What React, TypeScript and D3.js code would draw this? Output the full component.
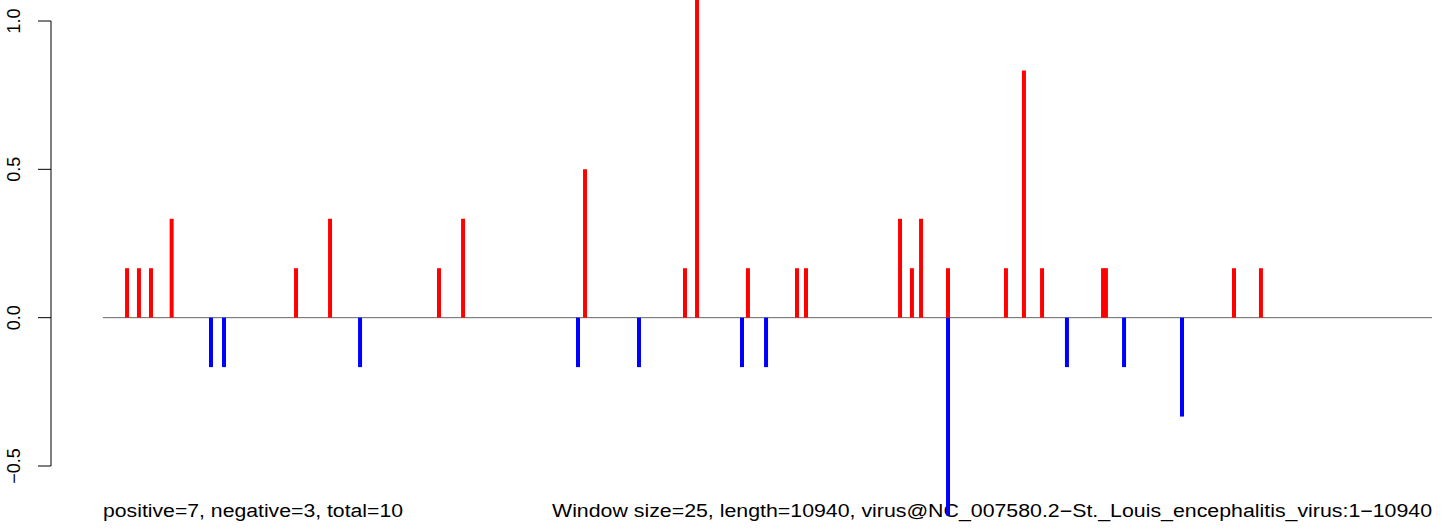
import React, { useEffect, useRef } from "react";
import * as d3 from "d3";

// genome positions (window starts) and scores
const positivePositions = [
  198, 296, 395, 565, 1589, 1869, 2766, 2964, 3968, 4791, 4890, 5309, 5713,
  5787, 6561, 6659, 6734, 6956, 7433, 7581, 7730, 8232, 8256, 9310, 9532,
];
const positiveValues = [
  0.1667, 0.1667, 0.1667, 0.3333, 0.1667, 0.3333, 0.1667, 0.3333, 0.5, 0.1667,
  1.1667, 0.1667, 0.1667, 0.1667, 0.3333, 0.1667, 0.3333, 0.1667, 0.1667,
  0.8333, 0.1667, 0.1667, 0.1667, 0.1667, 0.1667,
];
const negativePositions = [
  889, 996, 2116, 3910, 4412, 5260, 5458, 6956, 7935, 8405, 8882,
];
const negativeValues = [
  -0.1667, -0.1667, -0.1667, -0.1667, -0.1667, -0.1667, -0.1667, -0.6667,
  -0.1667, -0.1667, -0.3333,
];
const yTicks = [-0.5, 0, 0.5, 1.0];
const seqLength = 10940;
const leftLabel = "positive=7, negative=3, total=10";
const rightLabel =
  "Window size=25, length=10940, virus@NC_007580.2\u2212St._Louis_encephalitis_virus:1\u221210940";

const App: React.FC = () => {
  const svgRef = useRef<SVGSVGElement | null>(null);
  const width = 1444;
  const height = 529;
  const font = "'Liberation Sans', Arial, Helvetica, sans-serif";

  useEffect(() => {
    if (!svgRef.current) return;
    const svg = d3.select(svgRef.current);
    svg.selectAll("*").remove();

    const xScale = d3.scaleLinear().domain([0, seqLength]).range([103, 1432]);
    const yScale = d3.scaleLinear().domain([-0.5, 1.0]).range([466, 21]);

    // y axis, R style
    const axis = svg.append("g").attr("transform", "translate(51,0)");
    axis
      .append("line")
      .attr("y1", yScale(-0.5))
      .attr("y2", yScale(1.0))
      .attr("stroke", "#000")
      .attr("stroke-width", 1);
    axis
      .selectAll(".tick")
      .data(yTicks)
      .enter()
      .append("line")
      .attr("x1", -13)
      .attr("x2", 0)
      .attr("y1", (d) => yScale(d))
      .attr("y2", (d) => yScale(d))
      .attr("stroke", "#000")
      .attr("stroke-width", 1);
    axis
      .selectAll(".lab")
      .data(yTicks)
      .enter()
      .append("text")
      .attr("transform", (d) => `translate(-31,${yScale(d)}) rotate(-90)`)
      .attr("text-anchor", "middle")
      .style("font-family", font)
      .style("font-size", "18px")
      .attr("fill", "#000")
      .text((d) => (d < 0 ? "\u2212" : "") + Math.abs(d).toFixed(1));

    // baseline at zero
    svg
      .append("line")
      .attr("x1", xScale(0))
      .attr("x2", xScale(seqLength))
      .attr("y1", yScale(0))
      .attr("y2", yScale(0))
      .attr("stroke", "#666666")
      .attr("stroke-width", 1);

    // bottom captions
    svg
      .append("text")
      .attr("x", xScale(0))
      .attr("y", 517)
      .attr("textLength", 300)
      .attr("lengthAdjust", "spacingAndGlyphs")
      .style("font-family", font)
      .style("font-size", "18px")
      .attr("fill", "#000")
      .text(leftLabel);
    svg
      .append("text")
      .attr("x", 552)
      .attr("y", 517)
      .attr("textLength", xScale(seqLength) - 552)
      .attr("lengthAdjust", "spacingAndGlyphs")
      .style("font-family", font)
      .style("font-size", "18px")
      .attr("fill", "#000")
      .text(rightLabel);

    // red spikes
    svg
      .selectAll(".pos")
      .data(positivePositions.map((p, i) => ({ p, v: positiveValues[i] })))
      .enter()
      .append("line")
      .attr("class", "pos")
      .attr("x1", (d) => xScale(d.p))
      .attr("x2", (d) => xScale(d.p))
      .attr("y1", yScale(0))
      .attr("y2", (d) => yScale(d.v))
      .attr("stroke", "#ff0000")
      .attr("stroke-width", 4);

    // blue spikes
    svg
      .selectAll(".neg")
      .data(negativePositions.map((p, i) => ({ p, v: negativeValues[i] })))
      .enter()
      .append("line")
      .attr("class", "neg")
      .attr("x1", (d) => xScale(d.p))
      .attr("x2", (d) => xScale(d.p))
      .attr("y1", yScale(0))
      .attr("y2", (d) => yScale(d.v))
      .attr("stroke", "#0000ff")
      .attr("stroke-width", 4);
  }, []);

  return (
    <svg
      ref={svgRef}
      width={width}
      height={height}
      style={{ position: "absolute", left: 0, top: 0, background: "#fff" }}
    ></svg>
  );
};

export default App;
